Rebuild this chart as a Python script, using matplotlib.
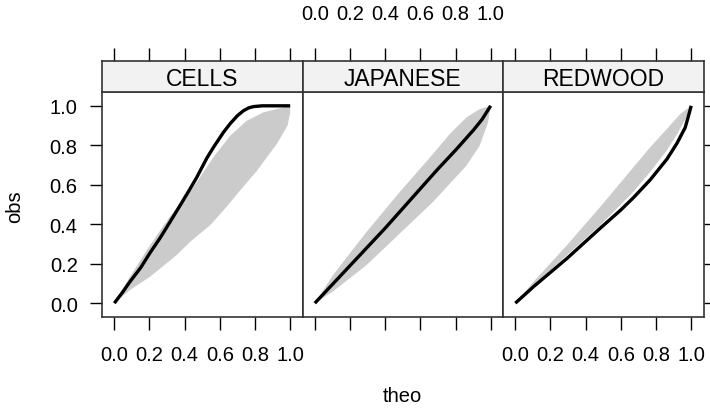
import numpy as np
import matplotlib
matplotlib.use("Agg")
import matplotlib.pyplot as plt

plt.rcParams['font.family'] = ['Liberation Sans', 'DejaVu Sans']

panels = ["CELLS", "JAPANESE", "REDWOOD"]

# observed curves (theo, obs)
cells_x = [0.0, 0.045, 0.089, 0.15, 0.203, 0.26, 0.317, 0.384, 0.431, 0.469, 0.526,
           0.564, 0.62, 0.659, 0.7, 0.734, 0.765, 0.791, 0.84, 0.9, 1.0]
cells_y = [0.0, 0.053, 0.109, 0.18, 0.255, 0.33, 0.412, 0.51, 0.58, 0.638, 0.735,
           0.79, 0.865, 0.91, 0.95, 0.975, 0.99, 0.996, 1.0, 1.0, 1.0]
jap_x = [0.0, 0.1, 0.2, 0.3, 0.4, 0.5, 0.6, 0.7, 0.8, 0.9, 0.95, 1.0]
jap_y = [0.0, 0.095, 0.19, 0.285, 0.38, 0.48, 0.58, 0.68, 0.775, 0.875, 0.93, 1.0]
red_x = [0.0, 0.104, 0.294, 0.483, 0.597, 0.672, 0.767, 0.862, 0.919, 0.966, 0.985, 1.0]
red_y = [0.0, 0.084, 0.227, 0.38, 0.47, 0.535, 0.625, 0.73, 0.81, 0.89, 0.95, 1.0]

# envelope upper / lower boundaries
cells_hi_x = [0.0, 0.089, 0.203, 0.317, 0.374, 0.45, 0.488, 0.564, 0.659, 0.753, 0.848, 0.962, 1.0]
cells_hi_y = [0.0, 0.134, 0.294, 0.44, 0.5, 0.59, 0.639, 0.74, 0.849, 0.924, 0.967, 0.992, 1.0]
cells_lo_x = [0.0, 0.089, 0.203, 0.355, 0.431, 0.545, 0.64, 0.715, 0.81, 0.924, 0.985, 1.0, 1.0]
cells_lo_y = [0.0, 0.067, 0.134, 0.244, 0.311, 0.395, 0.49, 0.571, 0.67, 0.807, 0.9, 0.967, 1.0]

jap_hi_x = [0.0, 0.104, 0.294, 0.483, 0.672, 0.767, 0.862, 0.9375, 1.0]
jap_hi_y = [0.0, 0.143, 0.361, 0.563, 0.756, 0.857, 0.941, 0.983, 1.0]
jap_lo_x = [0.0, 0.104, 0.294, 0.483, 0.672, 0.862, 0.9375, 0.985, 1.0]
jap_lo_y = [0.0, 0.06, 0.193, 0.353, 0.513, 0.697, 0.798, 0.916, 1.0]

red_hi_x = [0.0, 0.104, 0.294, 0.483, 0.672, 0.767, 0.862, 0.9375, 1.0]
red_hi_y = [0.0, 0.109, 0.294, 0.488, 0.689, 0.79, 0.883, 0.958, 1.0]
red_lo_x = [0.0, 0.104, 0.294, 0.483, 0.672, 0.767, 0.862, 0.919, 0.966, 1.0]
red_lo_y = [0.0, 0.09, 0.244, 0.395, 0.565, 0.665, 0.775, 0.855, 0.93, 1.0]

ticks = [0.0, 0.2, 0.4, 0.6, 0.8, 1.0]
tick_labels = ["0.0", "0.2", "0.4", "0.6", "0.8", "1.0"]

obs = [(cells_x, cells_y), (jap_x, jap_y), (red_x, red_y)]
env = [(cells_hi_x, cells_hi_y, cells_lo_x, cells_lo_y),
       (jap_hi_x, jap_hi_y, jap_lo_x, jap_lo_y),
       (red_hi_x, red_hi_y, red_lo_x, red_lo_y)]

W, H = 710, 410
fig = plt.figure(figsize=(W / 100, H / 100), dpi=100)

lefts = [102, 302.5, 503]
pw = 200.5
ptop, pbot = 93, 318
stop = 62
FS = 14.5
lims = (-0.07, 1.07)

for i in range(3):
    ax = fig.add_axes([lefts[i] / W, (H - pbot) / H, pw / W, (pbot - ptop) / H])
    sx = fig.add_axes([lefts[i] / W, (H - ptop) / H, pw / W, (ptop - stop) / H])
    hx, hy, lx, ly = env[i]
    px = np.concatenate([hx, lx[::-1]])
    py = np.concatenate([hy, ly[::-1]])
    ax.fill(px, py, color="#cbcbcb", lw=0, zorder=1)
    ox, oy = obs[i]
    ax.plot(ox, oy, color="black", lw=2.4, solid_capstyle="butt",
            solid_joinstyle="round", zorder=2)
    ax.set_xlim(lims)
    ax.set_ylim(lims)
    for s in ax.spines.values():
        s.set_linewidth(1.2)
        s.set_color("#333333")
    ax.set_xticks(ticks)
    ax.set_xticklabels(tick_labels)
    ax.tick_params(axis="x", direction="out", length=9.5, width=1.0,
                   top=False, bottom=True, labelbottom=(i != 1),
                   labelsize=FS, pad=11)
    ax.set_yticks(ticks)
    ax.set_yticklabels(tick_labels)
    ax.tick_params(axis="y", direction="out", length=8.5, width=1.0,
                   left=(i == 0), right=(i == 2), labelleft=(i == 0),
                   labelright=False, labelsize=FS, pad=9)

    sx.set_facecolor("#f2f2f2")
    sx.set_xlim(lims)
    sx.set_ylim(0, 1)
    sx.set_yticks([])
    sx.set_xticks(ticks)
    sx.set_xticklabels(tick_labels)
    sx.tick_params(axis="x", direction="out", length=9.5, width=1.0,
                   top=True, bottom=False, labeltop=(i == 1), labelbottom=False,
                   labelsize=FS, pad=18)
    for s in sx.spines.values():
        s.set_linewidth(1.2)
        s.set_color("#333333")
    sx.text(0.5, 0.45, panels[i], transform=sx.transAxes, ha="center", va="center",
            fontsize=16.5)

fig.text(402.5 / W, 1 - 397 / H, "theo", ha="center", va="center", fontsize=FS)
fig.text(15 / W, 1 - 207 / H, "obs", ha="center", va="center", rotation=90, fontsize=FS)

fig.savefig("out.png", dpi=100)
